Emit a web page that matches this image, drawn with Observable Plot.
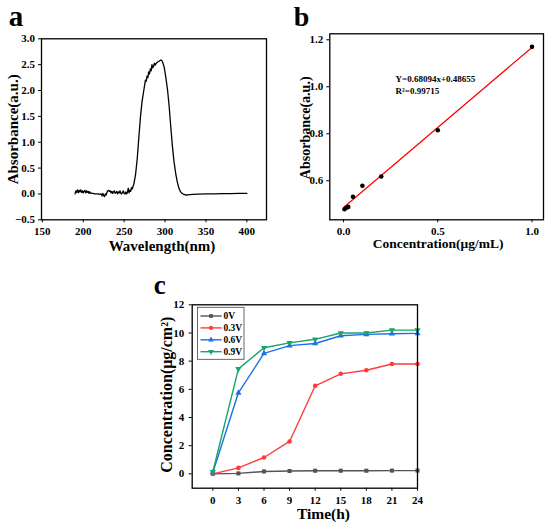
<!DOCTYPE html>
<html>
<head>
<meta charset="utf-8">
<script src="https://cdn.jsdelivr.net/npm/d3@7"></script>
<script src="https://cdn.jsdelivr.net/npm/@observablehq/plot@0.6"></script>
<style>
  html, body { margin: 0; padding: 0; background: white; }
  #root { position: relative; width: 550px; height: 524px; background: white; overflow: hidden; }
  .panel { position: absolute; }
</style>
</head>
<body>
<div id="root">
  <div id="pa" class="panel" style="left:0px;top:0px"></div>
  <div id="pb" class="panel" style="left:275px;top:0px"></div>
  <div id="pc" class="panel" style="left:110px;top:262px"></div>
</div>
<script>
// ---------- Panel a: UV absorbance spectrum ----------
const specWl = [190,191,192,193,194,195,196,197,198,199,200,201,202,203,204,205,206,207,208,209,210,212,214,216,218,220,222,223,224,225,226,227,228,229,230,231,232,233,234,235,236,237,238,239,240,241,242,243,244,245,246,247,248,249,250,251,252,253,254,255,256,257,258,259,260,262,264,266,268,270,272,274,275,276,277,278,279,280,281,282,283,284,285,286,287,288,289,290,291,292,293,294,295,296,297,299,301,303,305,307,309,311,313,315,317,319,321,323,325,327,330,335,340,350,360,370,380,390,400];
const specAbs = [0.00,0.06,0.03,0.08,0.02,0.07,0.04,0.08,0.03,0.06,0.02,0.05,0.07,0.02,0.06,0.03,0.05,0.01,0.04,0.02,0.01,0.01,0.00,0.00,0.00,-0.01,0.00,-0.04,0.01,-0.03,-0.05,0.00,-0.02,0.03,0.06,0.07,0.05,0.06,0.02,0.05,0.01,0.04,0.06,0.01,0.03,0.05,0.00,0.04,0.02,0.06,0.01,0.00,0.03,0.06,0.01,0.00,0.04,0.00,0.03,0.11,0.02,0.08,0.05,0.12,0.10,0.20,0.38,0.68,1.10,1.50,1.80,2.00,2.10,2.20,2.18,2.28,2.25,2.36,2.32,2.42,2.38,2.50,2.44,2.47,2.53,2.49,2.52,2.54,2.55,2.56,2.57,2.58,2.59,2.58,2.55,2.45,2.25,2.02,1.70,1.30,0.92,0.62,0.40,0.23,0.11,0.04,0.01,-0.01,-0.02,-0.02,-0.015,-0.01,-0.005,0.00,0.002,0.005,0.008,0.01,0.01];
const aXTicks = [150,200,250,300,350,400];
const aYTicks = [-0.5,0,0.5,1.0,1.5,2.0,2.5,3.0];

// ---------- Panel b: calibration curve ----------
const concX = [0.005,0.015,0.025,0.05,0.1,0.2,0.5,1.0];
const absY  = [0.479,0.485,0.489,0.532,0.579,0.618,0.815,1.17];
const fitX = [0, 1.0];
const fitY = [0.48655, 1.16749];
const eqLines = ["Y=0.68094x+0.48655", "R\u00B2=0.99715"];
const eqX = 0.276;
const eqY = [1.020, 0.971];
const bXTicks = [0, 0.5, 1.0];
const bYTicks = [0.6, 0.8, 1.0, 1.2];

// ---------- Panel c: release over time ----------
const timeH = [0,3,6,9,12,15,18,21,24];
const seriesNames = ["0V","0.3V","0.6V","0.9V"];
const v0  = [0.00,0.03,0.17,0.20,0.22,0.22,0.22,0.23,0.23];
const v03 = [0.00,0.42,1.16,2.30,6.25,7.10,7.35,7.80,7.80];
const v06 = [0.10,5.75,8.55,9.10,9.25,9.80,9.90,9.95,9.97];
const v09 = [0.15,7.45,8.95,9.30,9.55,10.00,10.00,10.20,10.20];
const seriesColors = ["#545454","#ff3b3b","#1f6fe6","#16a56b"];
const cXTicks = [0,3,6,9,12,15,18,21,24];
const cYTicks = [0,2,4,6,8,10,12];

const FONT = "'Liberation Serif','Times New Roman',serif";
const baseStyle = {fontFamily: FONT, fontWeight: "bold", fontSize: "11px", background: "transparent", overflow: "visible", color: "black"};
const f1 = d3.format(".1f");

const triangleDown = {
  draw(context, size) {
    const y = -Math.sqrt(size / (Math.sqrt(3) * 3));
    const s3 = Math.sqrt(3);
    context.moveTo(0, -2 * y);
    context.lineTo(-s3 * y, y);
    context.lineTo(s3 * y, y);
    context.closePath();
  }
};
const seriesSymbols = ["square", "circle", "triangle", triangleDown];
const d3Symbols = [d3.symbolSquare, d3.symbolCircle, d3.symbolTriangle, triangleDown];

function label(text, opts) {
  return Plot.text([text], {text: d => d, fill: "black", fontWeight: "bold", ...opts});
}
function yLabel(text, dx, dy, fontSize) {
  return label(text, {frameAnchor: "left", textAnchor: "middle", lineAnchor: "middle", rotate: -90, dx, dy, fontSize});
}
function xLabel(text, dx, dy, fontSize) {
  return label(text, {frameAnchor: "bottom", textAnchor: "middle", lineAnchor: "bottom", dx, dy, fontSize});
}
function letter(text, dx, dy, fontSize) {
  return label(text, {frameAnchor: "top-left", textAnchor: "start", lineAnchor: "bottom", dx, dy, fontSize});
}

// ---------- Build panel a ----------
const specData = specWl.map((w, i) => ({w, a: specAbs[i]}));
const plotA = Plot.plot({
  width: 275, height: 262,
  marginLeft: 41, marginRight: 9, marginTop: 38.3, marginBottom: 42.7,
  style: baseStyle,
  x: {domain: [149, 424], ticks: aXTicks, tickFormat: d => d, tickSize: 3, tickPadding: 4, label: null},
  y: {domain: [-0.5, 3.0], ticks: aYTicks, tickFormat: f1, tickSize: 3, tickPadding: 3.5, label: null},
  marks: [
    Plot.line(specData, {x: "w", y: "a", stroke: "black", strokeWidth: 1.3}),
    Plot.frame({stroke: "black", strokeWidth: 1.3}),
    xLabel("Wavelength(nm)", 8, 31, 15),
    yLabel("Absorbance(a.u.)", -28.5, 0, 15),
    letter("a", -32.7, -13.3, 29)
  ]
});
document.getElementById("pa").appendChild(plotA);

// ---------- Build panel b ----------
const ptsB = concX.map((c, i) => ({c, a: absY[i]}));
const fitB = fitX.map((c, i) => ({c, a: fitY[i]}));
const eqData = eqLines.map((t, i) => ({t, y: eqY[i]}));
const plotB = Plot.plot({
  width: 275, height: 262,
  marginLeft: 54.3, marginRight: 7, marginTop: 33.3, marginBottom: 42.7,
  style: baseStyle,
  x: {domain: [-0.073, 1.061], ticks: bXTicks, tickFormat: f1, tickSize: 3, tickPadding: 4, label: null},
  y: {domain: [0.434, 1.2255], ticks: bYTicks, tickFormat: f1, tickSize: 3, tickPadding: 3.5, label: null},
  marks: [
    Plot.line(fitB, {x: "c", y: "a", stroke: "#ff0000", strokeWidth: 1.2}),
    Plot.dot(ptsB, {x: "c", y: "a", r: 2.3, fill: "black", stroke: "none"}),
    Plot.text(eqData, {x: () => eqX, y: "y", text: "t", textAnchor: "start", lineAnchor: "bottom", fontSize: 9, fontWeight: "bold", fill: "black"}),
    Plot.frame({stroke: "black", strokeWidth: 1.3}),
    xLabel("Concentration(\u03BCg/mL)", 1.5, 28, 13.5),
    yLabel("Absorbance(a.u.)", -24.3, 1, 14),
    letter("b", -36, -8, 28)
  ]
});
document.getElementById("pb").appendChild(plotB);

// ---------- Build panel c ----------
const seriesVals = [v0, v03, v06, v09];
const seriesMarks = [];
seriesNames.forEach((name, k) => {
  const rows = timeH.map((t, i) => ({t, c: seriesVals[k][i], s: name}));
  seriesMarks.push(Plot.line(rows, {x: "t", y: "c", stroke: seriesColors[k], strokeWidth: 1.4}));
  seriesMarks.push(Plot.dot(rows, {x: "t", y: "c", r: 2.3, symbol: seriesSymbols[k], fill: seriesColors[k], stroke: "none"}));
});
const cML = 81.7, cMT = 42.3;
const plotC = Plot.plot({
  width: 320, height: 262,
  marginLeft: cML, marginRight: 13, marginTop: cMT, marginBottom: 36.3,
  style: baseStyle,
  x: {domain: [-2.42, 24], ticks: cXTicks, tickFormat: d => d, tickSize: 3, tickPadding: 5, label: null},
  y: {domain: [-1.02, 12], ticks: cYTicks, tickFormat: d => d, tickSize: 3, tickPadding: 5, label: null},
  marks: [
    ...seriesMarks,
    Plot.frame({stroke: "black", strokeWidth: 1.3}),
    xLabel("Time(h)", 18.6, 30.6, 15.5),
    yLabel("Concentration(\u03BCg/cm\u00B2)", -25.7, -1.8, 16),
    letter("c", -38.4, -11, 27)
  ]
});
document.getElementById("pc").appendChild(plotC);

// Legend for panel c (layout only, drawn into the plot's SVG)
(function() {
  const svg = d3.select(plotC);
  const g = svg.append("g").attr("transform", `translate(${cML},${cMT})`);
  g.append("rect").attr("x", 5.8).attr("y", 3).attr("width", 46.5).attr("height", 52)
    .attr("fill", "white").attr("stroke", "#444").attr("stroke-width", 0.8);
  seriesNames.forEach((name, k) => {
    const yy = 11.7 + k * 11.9;
    g.append("line").attr("x1", 8.8).attr("x2", 30).attr("y1", yy).attr("y2", yy)
      .attr("stroke", seriesColors[k]).attr("stroke-width", 1.4);
    g.append("path").attr("d", d3.symbol(d3Symbols[k], Math.PI * 2.1 * 2.1)())
      .attr("transform", `translate(19.3,${yy})`).attr("fill", seriesColors[k]);
    g.append("text").attr("x", 31.8).attr("y", yy).attr("dy", "0.34em")
      .attr("text-anchor", "start").attr("font-family", FONT).attr("font-weight", "bold")
      .attr("font-size", 9.5).attr("fill", "black").text(name);
  });
})();
</script>
</body>
</html>
